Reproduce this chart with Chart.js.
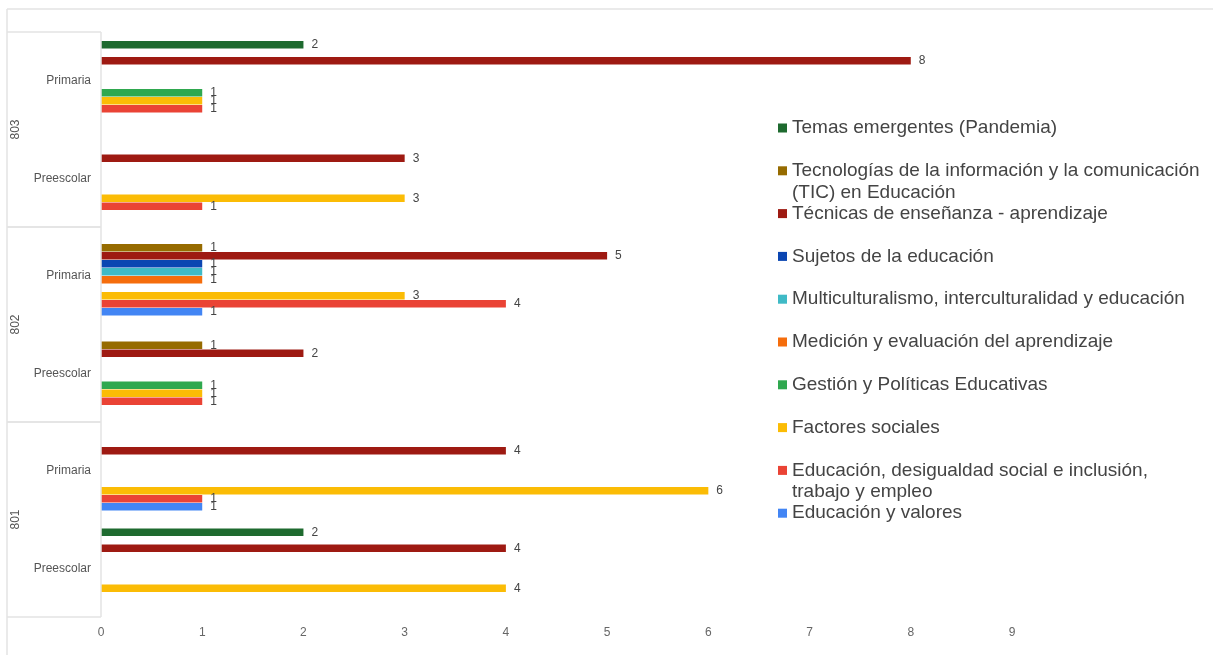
<!DOCTYPE html>
<html>
<head>
<meta charset="utf-8">
<script src="https://cdn.jsdelivr.net/npm/chart.js@4/dist/chart.umd.min.js"></script>
<style>
  html, body { margin: 0; padding: 0; background: #fff; }
  #wrap { width: 1213px; height: 655px; position: relative; }
</style>
</head>
<body>
<div id="wrap"><canvas id="myChart"></canvas></div>
<script>
// categorias (de arriba hacia abajo) y grupos
const categories = ["Primaria", "Preescolar", "Primaria", "Preescolar", "Primaria", "Preescolar"];
const groups = ["803", "802", "801"];
const xTicks = [0, 1, 2, 3, 4, 5, 6, 7, 8, 9];

// series, en el orden de la leyenda
const temas = [2, null, null, null, null, 2];
const tic = [null, null, 1, 1, null, null];
const tecnicas = [8, 3, 5, 2, 4, 4];
const sujetos = [null, null, 1, null, null, null];
const multicultural = [null, null, 1, null, null, null];
const medicion = [null, null, 1, null, null, null];
const gestion = [1, null, null, 1, null, null];
const factores = [1, 3, 3, 1, 6, 4];
const desigualdad = [1, 1, 4, 1, 1, null];
const valores = [null, null, 1, null, 1, null];

const seriesNames = [
  "Temas emergentes (Pandemia)",
  "Tecnologías de la información y la comunicación\n(TIC) en Educación",
  "Técnicas de enseñanza - aprendizaje",
  "Sujetos de la educación",
  "Multiculturalismo, interculturalidad y educación",
  "Medición y evaluación del aprendizaje",
  "Gestión y Políticas Educativas",
  "Factores sociales",
  "Educación, desigualdad social e inclusión,\ntrabajo y empleo",
  "Educación y valores",
];
const seriesData = [temas, tic, tecnicas, sujetos, multicultural, medicion, gestion, factores, desigualdad, valores];
const seriesColors = ["#1e6a2f", "#966b00", "#9e1a12", "#0b46b2", "#3fbac6", "#f56d0c", "#2fa84f", "#fbbc05", "#ea4335", "#4285f4"];

const FONT = "'Liberation Sans', Arial, sans-serif";

function line(ctx, x1, y1, x2, y2) {
  ctx.beginPath();
  ctx.moveTo(x1, y1);
  ctx.lineTo(x2, y2);
  ctx.stroke();
}

// marcos, etiquetas de grupo, valores y leyenda
const decorPlugin = {
  id: "decor",
  afterDraw(chart) {
    const ctx = chart.ctx;
    const yScale = chart.scales.y;
    const area = chart.chartArea;
    ctx.save();

    ctx.strokeStyle = "#e3e3e3";
    ctx.lineWidth = 1.5;
    line(ctx, 7, 9, chart.width, 9);
    line(ctx, 7, 9, 7, chart.height);

    const half = (yScale.getPixelForValue(1) - yScale.getPixelForValue(0)) / 2;
    groups.forEach((g, i) => {
      const top = yScale.getPixelForValue(i * 2) - half;
      const bot = yScale.getPixelForValue(i * 2 + 1) + half;
      ctx.strokeStyle = "#e3e3e3";
      line(ctx, 7, top, area.left, top);
      line(ctx, 7, bot, area.left, bot);
      ctx.save();
      ctx.translate(16, (top + bot) / 2);
      ctx.rotate(-Math.PI / 2);
      ctx.fillStyle = "#555";
      ctx.font = "12px " + FONT;
      ctx.textAlign = "center";
      ctx.textBaseline = "middle";
      ctx.fillText(g, 0, 0);
      ctx.restore();
    });
    line(ctx, area.left, area.top, area.left, area.bottom);

    // valores junto a cada barra
    ctx.fillStyle = "#444";
    ctx.font = "12px " + FONT;
    ctx.textAlign = "left";
    ctx.textBaseline = "middle";
    chart.data.datasets.forEach((ds, di) => {
      const meta = chart.getDatasetMeta(di);
      meta.data.forEach((bar, i) => {
        const v = ds.data[i];
        if (v == null) return;
        ctx.fillText(String(v), bar.x + 8, bar.y);
      });
    });

    // leyenda
    ctx.font = "19px " + FONT;
    let y = 128;
    chart.data.datasets.forEach((ds) => {
      const lines = ds.label.split("\n");
      ctx.fillStyle = ds.backgroundColor;
      ctx.fillRect(778, y - 4.5, 9, 9);
      ctx.fillStyle = "#444";
      lines.forEach((t, k) => ctx.fillText(t, 792, y + k * 21.5));
      y += 42.8;
    });

    ctx.restore();
  },
};

const config = {
  type: "bar",
  data: {
    labels: categories,
    datasets: seriesNames.map((name, i) => ({
      label: name,
      data: seriesData[i],
      backgroundColor: seriesColors[i],
      borderWidth: 0,
      categoryPercentage: 0.82,
      barPercentage: 0.94,
    })),
  },
  options: {
    indexAxis: "y",
    responsive: true,
    maintainAspectRatio: false,
    animation: false,
    layout: { padding: { left: 0, top: 32, right: 201, bottom: 0 } },
    plugins: {
      legend: { display: false },
      tooltip: { enabled: false },
    },
    scales: {
      x: {
        min: xTicks[0],
        max: xTicks[xTicks.length - 1],
        grid: { display: false, drawTicks: false },
        border: { display: false },
        ticks: {
          stepSize: 1,
          color: "#666",
          padding: 8,
          font: { family: "'Liberation Sans Narrow', " + FONT, size: 12 },
        },
        afterFit(scale) { scale.height = 38; },
      },
      y: {
        grid: { display: false, drawTicks: false },
        border: { display: false },
        ticks: {
          color: "#555",
          padding: 10,
          font: { family: FONT, size: 12 },
        },
        afterFit(scale) { scale.width = 101; },
      },
    },
  },
  plugins: [decorPlugin],
};

const chart = new Chart(document.getElementById("myChart"), config);
</script>
</body>
</html>
